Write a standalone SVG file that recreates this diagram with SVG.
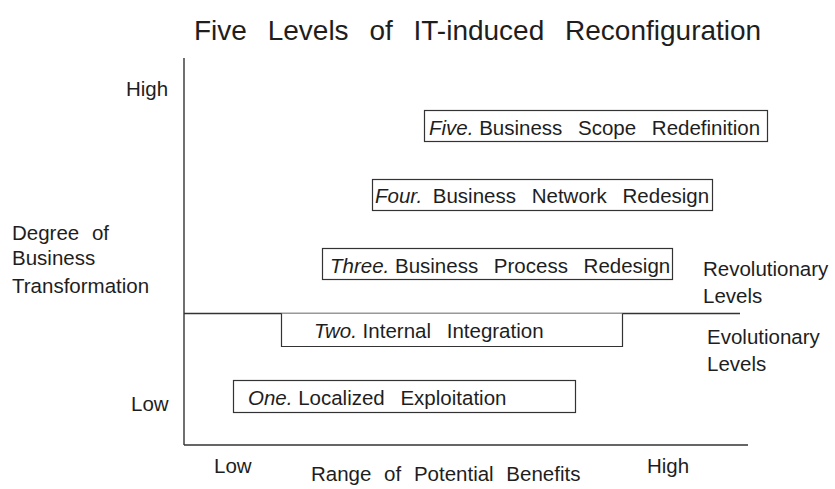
<svg xmlns="http://www.w3.org/2000/svg" width="835" height="489" viewBox="0 0 835 489">
<style>
text{font-family:"Liberation Sans",Arial,sans-serif;fill:#1e1e1e;}
.t{font-size:28px;word-spacing:13px;}
.l{font-size:20.5px;word-spacing:7px;}
.b{font-size:20.5px;word-spacing:10px;}
.i{font-style:italic;word-spacing:0;}
.box{fill:#fff;stroke:#333;stroke-width:1.2;}
.ax{stroke:#333;stroke-width:1.4;fill:none;}
</style>
<rect width="835" height="489" fill="#fff"/>
<text class="t" x="194" y="40">Five Levels of IT-induced Reconfiguration</text>
<g id="axes">
<line class="ax" x1="184" y1="58" x2="184" y2="445"/>
<line class="ax" x1="184" y1="445" x2="748" y2="445"/>
<line class="ax" x1="184" y1="313.5" x2="740" y2="313.5"/>
</g>
<g id="axis-labels">
<text class="l" x="126" y="96">High</text>
<text class="l" x="131" y="411">Low</text>
<text class="l" x="12" y="240">Degree of</text>
<text class="l" x="12" y="265">Business</text>
<text class="l" x="12" y="293">Transformation</text>
<text class="l" x="214" y="473">Low</text>
<text class="l" x="311" y="481">Range of Potential Benefits</text>
<text class="l" x="647" y="473">High</text>
<text class="l" x="703" y="276">Revolutionary</text>
<text class="l" x="703" y="303">Levels</text>
<text class="l" x="707" y="344">Evolutionary</text>
<text class="l" x="707" y="371">Levels</text>
</g>
<g id="level5">
<rect class="box" x="424.5" y="110.5" width="343" height="31"/>
<text class="b" x="429" y="135"><tspan class="i">Five. </tspan>Business Scope Redefinition</text>
</g>
<g id="level4">
<rect class="box" x="372.5" y="179.5" width="340" height="31"/>
<text class="b" x="375" y="203"><tspan class="i" style="word-spacing:5px">Four. </tspan>Business Network Redesign</text>
</g>
<g id="level3">
<rect class="box" x="322.5" y="248.5" width="350" height="31"/>
<text class="b" x="330" y="273"><tspan class="i">Three. </tspan>Business Process Redesign</text>
</g>
<g id="level2">
<path class="box" d="M281.5 313.5 V346.5 H622.5 V313.5"/>
<text class="b" x="314" y="338"><tspan class="i">Two. </tspan>Internal Integration</text>
</g>
<g id="level1">
<rect class="box" x="233.5" y="380.5" width="342" height="32"/>
<text class="b" x="248" y="405"><tspan class="i">One. </tspan>Localized Exploitation</text>
</g>
</svg>
